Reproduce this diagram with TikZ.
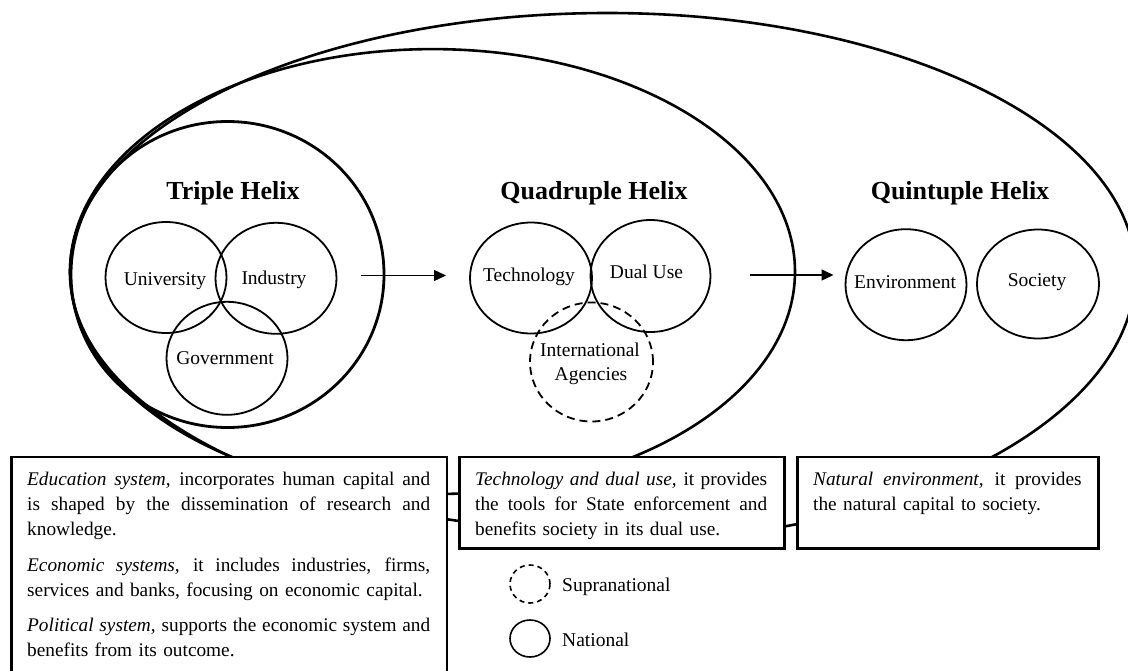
\documentclass[tikz,border=0pt]{standalone}
\usepackage{fontspec}
\setmainfont{Liberation Serif}
\usetikzlibrary{shapes.geometric,arrows.meta}
\newcommand{\jline}[2]{\leavevmode\hbox to #1{\spaceskip=0.25em plus 1fil\relax\xspaceskip=0.25em plus 1fil\relax #2}}
\begin{document}
\begin{tikzpicture}[x=1pt,y=-1pt,
  bigline/.style={draw, line width=2.6pt},
  bigring/.style={draw, ellipse, line width=2.6pt, inner sep=0pt, outer sep=0pt},
  ring/.style={draw, ellipse, line width=1.8pt, inner sep=0pt, outer sep=0pt},
  dring/.style={ring, dash pattern=on 8pt off 5pt},
  sring/.style={ring, line width=1.6pt},
  lbl/.style={font=\fontsize{19.5}{22}\selectfont, inner sep=0pt, anchor=base},
  ttl/.style={font=\fontsize{26}{28}\selectfont\bfseries, inner sep=0pt, anchor=base},
  arr/.style={-{Triangle[length=12pt,width=11pt]}, line width=1.4pt},
  infobox/.style={draw, fill=white, line width=2.7pt, rectangle, anchor=north west, inner sep=0pt, outer sep=0pt},
  boxtext/.style={font=\fontsize{19.3}{25}\selectfont, inner sep=0pt, anchor=base west, align=left},
  legtext/.style={font=\fontsize{19.5}{22}\selectfont, inner sep=0pt, anchor=base west},
]
\fill[white] (0,0) rectangle (1128,670);
\useasboundingbox (0,0) rectangle (1128,670);

% outer (quintuple) loop, slightly egg-shaped
\draw[bigline] (607.5,13)
  arc[start angle=90, end angle=270, x radius=537.5pt, y radius=259pt]
  -- ++(0,11)
  arc[start angle=270, end angle=360, x radius=528pt, y radius=270pt]
  arc[start angle=0, end angle=90, x radius=528pt, y radius=259pt] -- cycle;
% middle (quadruple) loop and triple helix circle
\node[bigring, minimum width=725pt, minimum height=445pt] (quadE) at (432.5,271.6) {};
\node[bigring, line width=2.8pt, minimum width=313pt, minimum height=306pt] (tripE) at (227.5,274.5) {};

% titles
\node[ttl] (tTriple) at (233,199.5) {Triple Helix};
\node[ttl] (tQuad) at (594,199.5) {Quadruple Helix};
\node[ttl] (tQuint) at (960,199.5) {Quintuple Helix};

% triple helix circles
\node[ring, minimum width=121pt, minimum height=111pt] (uni) at (166,277.5) {};
\node[ring, minimum width=121pt, minimum height=111pt] (ind) at (276,278.3) {};
\node[ring, minimum width=121pt, minimum height=113pt] (gov) at (227,358.3) {};
\node[lbl] (uniT) at (165,285) {University};
\node[lbl] (indT) at (274,284) {Industry};
\node[lbl] (govT) at (225,364) {Government};

% quadruple helix circles
\node[ring, minimum width=122pt, minimum height=111pt] (tech) at (531,278) {};
\node[ring, minimum width=120pt, minimum height=112pt] (dual) at (650.5,276) {};
\node[dring, minimum width=123pt, minimum height=119pt] (intl) at (591.5,362) {};
\node[lbl] (techT) at (529,281.7) {Technology};
\node[lbl] (dualT) at (646.5,278.3) {Dual Use};
\node[lbl] (intlT1) at (590,356) {International};
\node[lbl] (intlT2) at (591,380) {Agencies};

% quintuple helix circles
\node[ring, minimum width=121pt, minimum height=111pt] (env) at (906,284.7) {};
\node[ring, minimum width=122pt, minimum height=109pt] (soc) at (1038,284) {};
\node[lbl] (envT) at (905,288.3) {Environment};
\node[lbl] (socT) at (1037,286.7) {Society};

% arrows
\coordinate (a1s) at (361,275.5);
\coordinate (a1e) at (446,275.5);
\coordinate (a2s) at (749.5,275);
\coordinate (a2e) at (833.5,275);
\draw[arr] (a1s) -- (a1e);
\draw[arr] (a2s) -- (a2e);

% description boxes
\node[infobox, minimum width=435.5pt, minimum height=240pt] (boxL) at (11.5,457) {};
\node[infobox, minimum width=325pt, minimum height=91.5pt] (boxM) at (459.5,457) {};
\node[infobox, minimum width=301pt, minimum height=91.5pt] (boxR) at (797.5,457) {};

\node[boxtext, text width=403pt] (txtL) at (27,485) {%
\jline{403pt}{\textit{Education system,} incorporates human capital and}\\
\jline{403pt}{is shaped by the dissemination of research and}\\
knowledge.\\[11pt]
\jline{403pt}{\textit{Economic systems,} it includes industries, firms,}\\
services and banks, focusing on economic capital.\\[10pt]
\jline{403pt}{\textit{Political system,} supports the economic system and}\\
benefits from its outcome.};

\node[boxtext, text width=292pt] (txtM) at (475,485) {%
\jline{292pt}{\textit{Technology and dual use,} it provides}\\
\jline{292pt}{the tools for State enforcement and}\\
benefits society in its dual use.};

\node[boxtext, text width=269pt] (txtR) at (813,485) {%
\jline{268.5pt}{\textit{Natural environment,} it provides}\\
the natural capital to society.};

% legend
\node[sring, dash pattern=on 5pt off 4pt, minimum width=40pt, minimum height=38pt] (legS) at (530,584) {};
\node[sring, minimum width=40pt, minimum height=37pt] (legN) at (530,638.5) {};
\node[legtext] (legST) at (562,591.7) {Supranational};
\node[legtext] (legNT) at (562,646.7) {National};
\end{tikzpicture}
\end{document}
